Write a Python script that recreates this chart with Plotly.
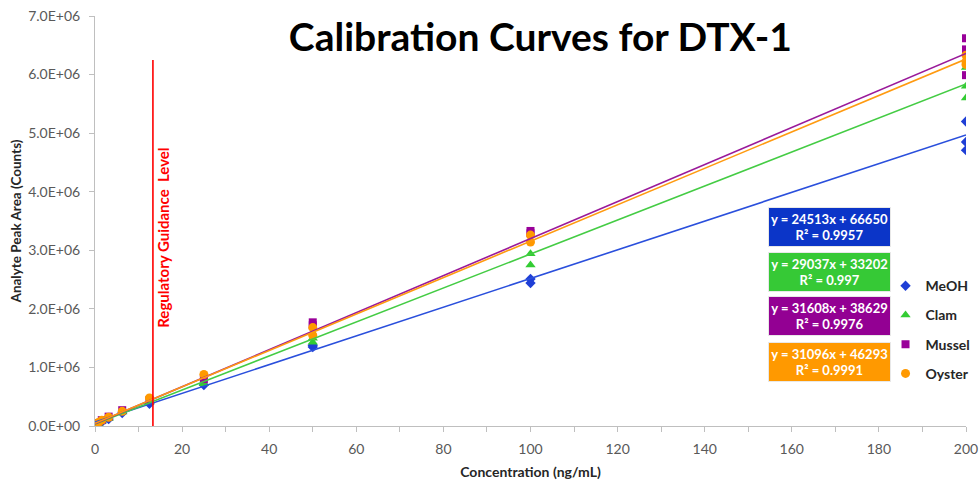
import plotly.graph_objects as go

# ---------------- data ----------------
conc = [0.39, 0.78, 1.56, 3.13, 6.25, 12.5, 25, 50, 50, 100, 100, 200, 200, 200]
meoh = [0.02e6, 0.04e6, 0.07e6, 0.12e6, 0.22e6, 0.38e6, 0.70e6, 1.35e6, 1.38e6, 2.44e6, 2.51e6, 4.71e6, 4.85e6, 5.20e6]
clam = [0.02e6, 0.04e6, 0.08e6, 0.13e6, 0.24e6, 0.41e6, 0.72e6, 1.43e6, 1.50e6, 2.75e6, 2.94e6, 5.60e6, 5.80e6, 6.12e6]
mussel = [0.03e6, 0.05e6, 0.10e6, 0.16e6, 0.27e6, 0.44e6, 0.80e6, 1.72e6, 1.77e6, 3.29e6, 3.33e6, 5.99e6, 6.43e6, 6.62e6]
oyster = [0.03e6, 0.06e6, 0.10e6, 0.15e6, 0.25e6, 0.48e6, 0.88e6, 1.55e6, 1.68e6, 3.14e6, 3.26e6, 6.17e6, 6.22e6, 6.33e6]

series_names = ["MeOH", "Clam", "Mussel", "Oyster"]
slopes = [24513, 29037, 31608, 31096]
intercepts = [66650, 33202, 38629, 46293]
r2 = ["0.9957", "0.997", "0.9976", "0.9991"]

reg_level = 13.3
reg_top = 6.25e6

y_tick_vals = [0, 1e6, 2e6, 3e6, 4e6, 5e6, 6e6, 7e6]
y_tick_text = ["0.0E+00", "1.0E+06", "2.0E+06", "3.0E+06", "4.0E+06", "5.0E+06", "6.0E+06", "7.0E+06"]
x_tick_vals = list(range(0, 201, 10))
x_tick_text = [str(v) if v % 20 == 0 else "" for v in x_tick_vals]

# ---------------- styles ----------------
marker_colors = ["#1f3fd6", "#33cc33", "#990099", "#ff9900"]
line_colors = ["#2a4fdc", "#44cc44", "#9a1a9a", "#ff9a10"]
box_colors = ["#0b35c8", "#36c936", "#930093", "#ff9900"]
symbols = ["diamond", "triangle-up", "square", "circle"]
sizes = [8, 9, 8, 9]
FONT = "Lato"

fig = go.Figure()
ys = [meoh, clam, mussel, oyster]
xmax = max(conc)
for i, name in enumerate(series_names):
    fig.add_trace(go.Scatter(
        x=conc, y=ys[i], mode="markers", name=f"<b>{name}</b>",
        legendgroup=name,
        marker=dict(symbol=symbols[i], color=marker_colors[i], size=sizes[i], line=dict(width=0)),
    ))
for i, name in enumerate(series_names):
    lx = [0, xmax]
    fig.add_trace(go.Scatter(
        x=lx, y=[slopes[i] * v + intercepts[i] for v in lx], mode="lines",
        line=dict(color=line_colors[i], width=1.6), showlegend=False, hoverinfo="skip",
    ))

# regulatory line
fig.add_trace(go.Scatter(x=[reg_level, reg_level], y=[0, reg_top], mode="lines",
                         line=dict(color="#ff0000", width=1.6), showlegend=False, hoverinfo="skip"))

annotations = [
    dict(x=reg_level + 2.4, y=3.22e6, xref="x", yref="y", text="<b>Regulatory Guidance  Level</b>",
         textangle=-90, showarrow=False, xanchor="center", yanchor="middle",
         font=dict(family=FONT, size=15, color="#ff0000")),
]
box_y = [0.485, 0.376, 0.268, 0.157]
for i in range(4):
    annotations.append(dict(
        x=0.843, y=box_y[i], xref="paper", yref="paper", xanchor="center", yanchor="middle",
        text=f"<b>y = {slopes[i]}x + {intercepts[i]}<br>R² = {r2[i]}</b>",
        showarrow=False, bgcolor=box_colors[i], bordercolor="#e8e8e8", borderwidth=1,
        borderpad=1, width=119, height=36,
        font=dict(family=FONT, size=13, color="white"),
    ))

fig.update_layout(
    width=979, height=485,
    margin=dict(l=95, r=13, t=16, b=59, autoexpand=False),
    paper_bgcolor="white", plot_bgcolor="white",
    title=dict(text="<b>Calibration Curves for DTX-1</b>", x=0.552, xanchor="center",
               y=0.922, yanchor="middle", font=dict(family=FONT, size=39, color="black")),
    showlegend=True,
    legend=dict(x=0.9076, y=0.38, xanchor="left", yanchor="top", traceorder="grouped",
                tracegroupgap=8, itemwidth=30, bgcolor="rgba(0,0,0,0)",
                font=dict(family=FONT, size=14, color="#262626")),
    annotations=annotations,
)
fig.update_xaxes(range=[0, 200], tickvals=x_tick_vals, ticktext=x_tick_text,
                 showgrid=False, zeroline=False, showline=True, linecolor="#bfbfbf", linewidth=1,
                 ticks="outside", ticklen=5, tickcolor="#bfbfbf", ticklabelstandoff=5,
                 tickfont=dict(family=FONT, size=14, color="#595959"),
                 title=dict(text="<b>Concentration (ng/mL)</b>", standoff=11,
                            font=dict(family=FONT, size=14, color="#262626")))
fig.update_yaxes(range=[0, 7e6], tickvals=y_tick_vals, ticktext=y_tick_text,
                 showgrid=False, zeroline=False, showline=True, linecolor="#bfbfbf", linewidth=1,
                 ticks="outside", ticklen=5, tickcolor="#bfbfbf", ticklabelstandoff=6,
                 tickfont=dict(family=FONT, size=14, color="#595959"),
                 title=dict(text="<b>Analyte Peak Area (Counts)</b>", standoff=3,
                            font=dict(family=FONT, size=13.5, color="#262626")))

fig.write_html("out.html")
